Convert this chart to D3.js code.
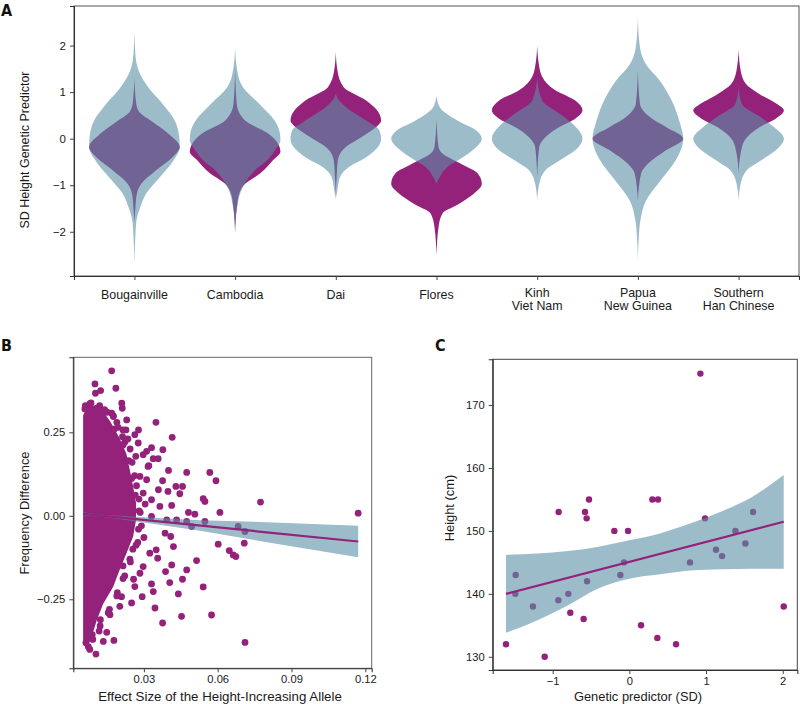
<!DOCTYPE html>
<html><head><meta charset="utf-8">
<script src="https://cdn.jsdelivr.net/npm/d3@7"></script>
<style>
body{margin:0;background:#fff}
text{font-family:"Liberation Sans",Arial,Helvetica,sans-serif;fill:#1a1a1a}
.plab{font-family:"Liberation Sans Narrow","DejaVu Sans Condensed","Liberation Sans",sans-serif;font-weight:bold;font-size:16px;fill:#111}
</style>
</head><body>
<svg id="chart" width="800" height="704"></svg>
<script>
// ---------------- DATA ----------------
// Panel A: populations and violin profiles [value, relative density width]
const populations = ["Bougainville","Cambodia","Dai","Flores","Kinh","Papua","Southern"];
const popLabels = [["Bougainville"],["Cambodia"],["Dai"],["Flores"],["Kinh","Viet Nam"],["Papua","New Guinea"],["Southern","Han Chinese"]];
const yTicksA = [-2,-1,0,1,2];

const bougainvilleBlue = [[2.34,0],[1.83,0.02],[1.47,0.09],[1.11,0.30],[0.75,0.62],[0.39,0.89],[0.03,0.99],[-0.18,1.0],[-0.47,0.86],[-0.83,0.56],[-1.18,0.26],[-1.47,0.13],[-1.76,0.045],[-2.12,0.02],[-2.69,0]];
const bougainvilleMag  = [[1.31,0],[0.75,0.04],[0.57,0.11],[0.39,0.36],[0.10,0.76],[-0.18,1.0],[-0.40,0.84],[-0.68,0.48],[-0.97,0.15],[-1.18,0.055],[-1.5,0.02],[-1.79,0]];
const cambodiaBlue = [[1.96,0],[1.47,0.045],[1.11,0.17],[0.75,0.53],[0.39,0.87],[0.11,0.99],[-0.04,1.0],[-0.22,0.9],[-0.47,0.70],[-0.68,0.44],[-1.04,0.17],[-1.47,0.045],[-1.9,0]];
const cambodiaMag  = [[1.5,0],[0.75,0.035],[0.39,0.22],[0.11,0.73],[-0.15,0.97],[-0.28,1.0],[-0.45,0.85],[-0.75,0.55],[-0.97,0.22],[-1.18,0.09],[-1.47,0.04],[-2.03,0]];
const daiBlue = [[0.97,0],[0.85,0.05],[0.68,0.22],[0.39,0.67],[0.18,0.96],[0.0,1.0],[-0.18,0.93],[-0.4,0.67],[-0.61,0.29],[-0.83,0.09],[-1.11,0.035],[-1.29,0]];
const daiMag  = [[1.86,0],[1.47,0.035],[1.11,0.17],[0.82,0.67],[0.61,0.91],[0.39,1.0],[0.25,0.89],[0.03,0.56],[-0.18,0.22],[-0.47,0.045],[-0.8,0.02],[-1.18,0]];
const floresBlue = [[0.93,0],[0.68,0.07],[0.39,0.46],[0.18,0.87],[0.0,1.0],[-0.22,0.83],[-0.4,0.58],[-0.61,0.24],[-0.83,0.07],[-0.97,0]];
const floresMag  = [[0.43,0],[-0.18,0.045],[-0.32,0.13],[-0.54,0.54],[-0.75,0.91],[-0.97,1.0],[-1.18,0.83],[-1.4,0.5],[-1.61,0.13],[-1.9,0.045],[-2.51,0]];
const kinhBlue = [[1.29,0],[0.82,0.11],[0.54,0.49],[0.32,0.78],[0.0,1.0],[-0.25,0.84],[-0.47,0.49],[-0.68,0.18],[-0.97,0.045],[-1.33,0]];
const kinhMag  = [[2.0,0],[1.61,0.035],[1.33,0.11],[1.04,0.4],[0.82,0.84],[0.61,1.0],[0.43,0.84],[0.25,0.49],[0.03,0.18],[-0.18,0.045],[-0.83,0]];
const papuaBlue = [[2.58,0],[1.97,0.045],[1.61,0.17],[1.25,0.48],[0.75,0.78],[0.39,0.91],[0.0,1.0],[-0.47,0.83],[-0.9,0.5],[-1.33,0.18],[-1.76,0.055],[-2.12,0.02],[-2.62,0]];
const papuaMag  = [[1.47,0],[0.75,0.045],[0.46,0.27],[0.25,0.62],[0.0,1.0],[-0.25,0.62],[-0.54,0.22],[-0.75,0.07],[-1.33,0]];
const southernBlue = [[1.11,0],[0.75,0.07],[0.46,0.49],[0.25,0.78],[0.0,1.0],[-0.25,0.82],[-0.47,0.49],[-0.68,0.18],[-0.97,0.045],[-1.33,0]];
const southernMag  = [[1.91,0],[1.47,0.045],[1.18,0.16],[0.93,0.51],[0.75,0.84],[0.61,1.0],[0.43,0.82],[0.25,0.47],[-0.04,0.13],[-0.32,0.045],[-0.75,0]];

// Panel B: dense cloud outline [effect, freqDiff], individual SNPs, fit and ribbon
const cloudOutline = [[0.0056,0.30],[0.0072,0.325],[0.0100,0.328],[0.0125,0.318],[0.0160,0.282],[0.0198,0.232],[0.0226,0.185],[0.0240,0.136],[0.0253,0.088],[0.0265,0.038],[0.0265,-0.012],[0.0253,-0.062],[0.0226,-0.112],[0.0198,-0.162],[0.0172,-0.212],[0.0132,-0.262],[0.0106,-0.311],[0.0086,-0.358],[0.0070,-0.390],[0.0058,-0.385],[0.0056,-0.37]];
const snpEffect = [0.0169,0.0101,0.0103,0.0124,0.0186,0.0210,0.0212,0.0110,0.0121,0.0169,0.0176,0.0349,0.0278,0.0227,0.0215,0.0415,0.0213,0.0331,0.0377,0.0311,0.0297,0.0267,0.0338,0.0358,0.0400,0.0474,0.0568,0.0593,0.0376,0.0430,0.0457,0.0359,0.0398,0.0446,0.0541,0.0548,0.0774,0.0413,0.0481,0.0507,0.0609,0.1171,0.0433,0.0474,0.0494,0.0548,0.0683,0.0711,0.0602,0.0708,0.0647,0.0663,0.0674,0.0409,0.0420,0.0356,0.0413,0.0474,0.0514,0.0388,0.0457,0.0405,0.0331,0.0541,0.0338,0.0440,0.0293,0.0250,0.0345,0.0453,0.0575,0.0376,0.0711,0.0178,0.0149,0.0105,0.0074,0.0162,0.0202,0.0209,0.0123,0.0090,0.0135,0.0263,0.0284,0.0297,0.0324,0.0350,0.0386,0.0393,0.0331,0.0365,0.0331,0.0297,0.0311,0.0284,0.0317,0.0277,0.0263,0.0230,
 0.0280,0.0290,0.0275,0.0262,0.0252,0.0244,0.0222,0.0190,0.0150,0.0120,0.0080,0.0062,0.0243,0.0222,0.0192,0.0160,0.0122,0.0092,0.0064,0.0285,0.0270,0.0255,0.0235,0.0215,0.0180,
 0.0195,0.0175,0.0140,0.0215,0.0238,0.0250,0.0265,0.0280,0.0278,0.0268,0.0245,0.0215,0.0190,0.0155,0.0118,0.0080,0.0060,0.0085,0.0305,0.0300,0.0320,0.0258];
const snpFreq = [0.434,0.395,0.367,0.375,0.382,0.337,0.322,0.322,0.322,0.307,0.297,0.280,0.257,0.257,0.257,0.235,0.237,0.204,0.198,0.193,0.183,0.178,0.171,0.171,0.136,0.130,0.130,0.105,0.105,0.088,0.088,0.078,0.073,0.066,0.051,0.043,0.041,0.031,0.010,0.005,0.010,0.008,-0.012,-0.017,-0.032,-0.017,-0.032,-0.047,-0.085,-0.082,-0.104,-0.117,-0.122,-0.062,-0.092,-0.127,-0.147,-0.162,-0.134,-0.167,-0.190,-0.200,-0.204,-0.213,-0.227,-0.234,-0.242,-0.261,-0.276,-0.301,-0.297,-0.321,-0.379,-0.373,-0.349,-0.414,-0.392,-0.296,-0.271,-0.242,-0.311,-0.356,-0.376,-0.212,-0.172,-0.152,-0.112,-0.102,-0.052,-0.012,-0.002,0.028,0.048,0.068,0.108,0.118,0.148,0.218,0.243,0.287,
 0.050,-0.030,-0.080,0.120,0.160,0.200,0.220,0.280,0.310,0.330,0.335,0.330,-0.130,-0.180,-0.230,-0.280,-0.330,-0.370,-0.380,0.010,0.090,-0.100,0.230,-0.150,0.260,
 0.265,0.300,0.318,0.212,0.165,0.112,0.062,0.015,-0.040,-0.088,-0.138,-0.188,-0.240,-0.290,-0.345,-0.400,0.320,0.338,0.035,-0.065,0.150,-0.190];
const fitB = [[0.0053,0.006],[0.1171,-0.077]];
const ribbonB = [[0.0053,0.001,0.011],[0.012,-0.002,0.004],[0.03,-0.020,-0.004],[0.0528,-0.045,-0.013],[0.08,-0.079,-0.019],[0.1171,-0.124,-0.030]];
const xTicksB = [0.03,0.06,0.09,0.12];
const yTicksB = [-0.25,0,0.25];

// Panel C: individuals [genetic predictor SD, height cm], fit and ribbon
const predictorSD = [0.926,-1.609,-1.104,-1.483,-1.487,-1.257,-0.926,-0.796,-0.770,-0.922,-0.578,-0.557,-0.526,-0.596,-0.552,-0.196,-0.017,-0.070,-0.117,0.300,0.374,0.152,0.365,0.609,0.791,0.987,1.130,1.209,1.383,1.513,1.613,2.013];
const heightCm    = [175,132,130,143,140,138,139,140,137,153,153,152,155,136,142,150,150,145,143,155,155,135,133,132,145,152,147,146,150,148,153,138];
const fitC = [[-1.609,140.0],[2.013,151.46]];
const ribbonC = [[-1.609,133.8,146.2],[-1.2,135.8,146.4],[-0.8,138.2,146.8],[-0.4,140.9,147.5],[0,142.4,148.5],[0.4,143.1,149.6],[0.8,143.7,151.2],[1.2,143.9,153.1],[1.6,144.0,155.4],[2.013,144.0,158.9]];
const xTicksC = [-1,0,1,2];
const yTicksC = [130,140,150,160,170];

// ---------------- STYLE ----------------
const MAG = "#94217a", BLUE = "#5a8fa5", BLUE_OP = 0.6;
const svg = d3.select("#chart");
const fmtInt = d3.format("d");

function styleAxis(g){
  g.selectAll(".domain").attr("stroke","#333").attr("stroke-width",1.1);
  g.selectAll(".tick line").attr("stroke","#444");
  g.selectAll(".tick text").style("fill","#1a1a1a");
}

// ---------------- PANEL A ----------------
(function(){
  const L=74,R=799,T=6,B=276;
  const x = d3.scalePoint().domain(populations).range([L,R]).padding(0.6);
  const y = d3.scaleLinear().domain([-2.95,2.85]).range([B,T]);
  const hwMax = 0.45*x.step();
  const blues = [bougainvilleBlue,cambodiaBlue,daiBlue,floresBlue,kinhBlue,papuaBlue,southernBlue];
  const mags = [bougainvilleMag,cambodiaMag,daiMag,floresMag,kinhMag,papuaMag,southernMag];
  const g = svg.append("g");
  g.append("rect").attr("x",L).attr("y",T).attr("width",R-L).attr("height",B-T).attr("fill","none").attr("stroke","#555").attr("stroke-width",1);
  populations.forEach((p,i)=>{
    const cx = x(p);
    const area = d3.area().curve(d3.curveMonotoneY).y(d=>y(d[0])).x0(d=>cx-d[1]*hwMax).x1(d=>cx+d[1]*hwMax);
    g.append("path").attr("d",area(mags[i])).attr("fill",MAG);
    g.append("path").attr("d",area(blues[i])).attr("fill",BLUE).attr("fill-opacity",BLUE_OP);
  });
  const ya = g.append("g").attr("transform",`translate(${L},0)`).call(d3.axisLeft(y).tickValues(yTicksA).tickFormat(fmtInt).tickSizeOuter(0).tickSize(4).tickPadding(4));
  ya.selectAll("text").style("font-size","11.5px");
  styleAxis(ya);
  const xa = g.append("g").attr("transform",`translate(0,${B})`).call(d3.axisBottom(x).tickSizeOuter(0).tickSize(4).tickFormat(""));
  styleAxis(xa);
  populations.forEach((p,i)=>{
    const lines = popLabels[i];
    lines.forEach((ln,j)=>{
      g.append("text").attr("text-anchor","middle").style("font-size","12.4px")
        .attr("x",x(p)).attr("y",(lines.length===1?298.5:296.5)+j*13.4).text(ln);
    });
  });
  g.append("text").attr("transform","translate(29,150) rotate(-90)").attr("text-anchor","middle").style("font-size","12.5px").text("SD Height Genetic Predictor");
  svg.append("text").attr("class","plab").attr("x",1).attr("y",16).text("A");
})();

// ---------------- PANEL B ----------------
(function(){
  const L=73.3,R=371.7,T=357.3,B=668.3;
  const x = d3.scaleLinear().domain([0.0013,0.1226]).range([L,R]);
  const y = d3.scaleLinear().domain([-0.4566,0.4746]).range([B,T]);
  const g = svg.append("g");
  svg.append("clipPath").attr("id","clipB").append("rect").attr("x",L).attr("y",T).attr("width",R-L).attr("height",B-T);
  const pg = g.append("g").attr("clip-path","url(#clipB)");
  pg.append("path").attr("d",d3.line().curve(d3.curveLinearClosed).x(d=>x(d[0])).y(d=>y(d[1]))(cloudOutline)).attr("fill",MAG).attr("stroke",MAG).attr("stroke-width",1.5).attr("stroke-linejoin","round");
  pg.selectAll("circle").data(snpEffect.map((v,i)=>[v,snpFreq[i]])).join("circle")
    .attr("cx",d=>x(d[0])).attr("cy",d=>y(d[1])).attr("r",3.4).attr("fill",MAG);
  const area = d3.area().x(d=>x(d[0])).y0(d=>y(d[1])).y1(d=>y(d[2]));
  pg.append("path").attr("d",area(ribbonB)).attr("fill",BLUE).attr("fill-opacity",BLUE_OP);
  pg.append("path").attr("d",d3.line().x(d=>x(d[0])).y(d=>y(d[1]))(fitB)).attr("stroke",MAG).attr("stroke-width",2.2).attr("fill","none");
  g.append("rect").attr("x",L).attr("y",T).attr("width",R-L).attr("height",B-T).attr("fill","none").attr("stroke","#666").attr("stroke-width",1);
  const ya = g.append("g").attr("transform",`translate(${L},0)`).call(d3.axisLeft(y).tickValues(yTicksB).tickFormat(d3.format(".2f")).tickSizeOuter(0).tickSize(4).tickPadding(4));
  ya.selectAll("text").style("font-size","11.2px");
  styleAxis(ya);
  const xa = g.append("g").attr("transform",`translate(0,${B})`).call(d3.axisBottom(x).tickValues(xTicksB).tickFormat(d3.format(".2f")).tickSizeOuter(0).tickSize(4).tickPadding(3));
  xa.selectAll("text").style("font-size","11.2px");
  styleAxis(xa);
  g.append("text").attr("x",220).attr("y",701).attr("text-anchor","middle").style("font-size","13.3px").text("Effect Size of the Height-Increasing Allele");
  g.append("text").attr("transform","translate(29,513) rotate(-90)").attr("text-anchor","middle").style("font-size","12.9px").text("Frequency Difference");
  svg.append("text").attr("class","plab").attr("x",1).attr("y",351).text("B");
})();

// ---------------- PANEL C ----------------
(function(){
  const L=492.7,R=797.3,T=359.3,B=670;
  const x = d3.scaleLinear().domain([-1.782,2.19]).range([L,R]);
  const y = d3.scaleLinear().domain([127.9,177.27]).range([B,T]);
  const g = svg.append("g");
  g.selectAll("circle").data(predictorSD.map((v,i)=>[v,heightCm[i]])).join("circle")
    .attr("cx",d=>x(d[0])).attr("cy",d=>y(d[1])).attr("r",3.2).attr("fill",MAG);
  const area = d3.area().curve(d3.curveMonotoneX).x(d=>x(d[0])).y0(d=>y(d[1])).y1(d=>y(d[2]));
  g.append("path").attr("d",area(ribbonC)).attr("fill",BLUE).attr("fill-opacity",BLUE_OP);
  g.append("path").attr("d",d3.line().x(d=>x(d[0])).y(d=>y(d[1]))(fitC)).attr("stroke",MAG).attr("stroke-width",2.2).attr("fill","none");
  g.append("rect").attr("x",L).attr("y",T).attr("width",R-L).attr("height",B-T).attr("fill","none").attr("stroke","#444").attr("stroke-width",1);
  const ya = g.append("g").attr("transform",`translate(${L},0)`).call(d3.axisLeft(y).tickValues(yTicksC).tickFormat(fmtInt).tickSizeOuter(0).tickSize(4).tickPadding(4));
  ya.selectAll("text").style("font-size","11.2px");
  styleAxis(ya);
  const xa = g.append("g").attr("transform",`translate(0,${B})`).call(d3.axisBottom(x).tickValues(xTicksC).tickFormat(fmtInt).tickSizeOuter(0).tickSize(4).tickPadding(3));
  xa.selectAll("text").style("font-size","11.2px");
  styleAxis(xa);
  g.append("text").attr("x",638).attr("y",701).attr("text-anchor","middle").style("font-size","12.9px").text("Genetic predictor (SD)");
  g.append("text").attr("transform","translate(454,508) rotate(-90)").attr("text-anchor","middle").style("font-size","12.9px").text("Height (cm)");
  svg.append("text").attr("class","plab").attr("x",435).attr("y",351).text("C");
})();
</script>
</body></html>
